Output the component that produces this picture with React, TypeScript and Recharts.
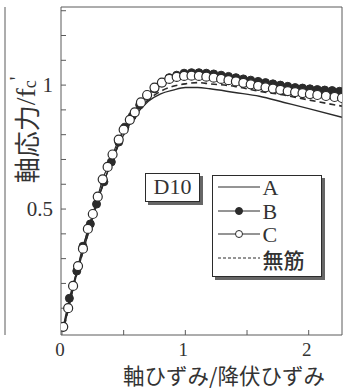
import React from 'react';
import { LineChart, Line, XAxis, YAxis, Legend } from 'recharts';

// strain / yield strain (x) and normalised axial stress (y)
const xA = [0.02, 0.1, 0.2, 0.3, 0.4, 0.5, 0.6, 0.7, 0.8, 0.9, 1.0, 1.1, 1.2, 1.4, 1.6, 1.8, 2.0, 2.27];
const yA = [0.03, 0.2, 0.38, 0.55, 0.69, 0.8, 0.88, 0.935, 0.965, 0.98, 0.99, 0.99, 0.985, 0.97, 0.955, 0.93, 0.905, 0.87];

const xPlain = [0.02, 0.1, 0.2, 0.3, 0.4, 0.5, 0.6, 0.7, 0.8, 0.9, 1.0, 1.1, 1.2, 1.4, 1.6, 1.8, 2.0, 2.27];
const yPlain = [0.03, 0.2, 0.38, 0.55, 0.69, 0.8, 0.885, 0.94, 0.975, 0.995, 1.005, 1.01, 1.005, 0.995, 0.975, 0.96, 0.94, 0.915];

const xB = [0.01, 0.06, 0.12, 0.17, 0.23, 0.28, 0.34, 0.4, 0.46, 0.51, 0.57, 0.63, 0.69, 0.75, 0.81, 0.87, 0.93, 0.99, 1.05, 1.11, 1.17, 1.23, 1.29, 1.35, 1.41, 1.47, 1.53, 1.59, 1.65, 1.71, 1.77, 1.83, 1.89, 1.95, 2.01, 2.07, 2.13, 2.19, 2.25];
const yB = [0.025, 0.14, 0.25, 0.35, 0.44, 0.52, 0.61, 0.69, 0.77, 0.83, 0.875, 0.92, 0.955, 0.985, 1.01, 1.03, 1.04, 1.048, 1.05, 1.05, 1.048, 1.045, 1.04, 1.035, 1.03, 1.025, 1.02, 1.015, 1.01, 1.005, 1.0, 0.995, 0.99, 0.988, 0.985, 0.982, 0.98, 0.978, 0.975];

const xC = [0.01, 0.05, 0.09, 0.13, 0.17, 0.21, 0.25, 0.29, 0.33, 0.37, 0.41, 0.46, 0.5, 0.55, 0.59, 0.64, 0.69, 0.75, 0.81, 0.87, 0.93, 0.99, 1.05, 1.11, 1.17, 1.23, 1.29, 1.35, 1.41, 1.47, 1.53, 1.59, 1.65, 1.71, 1.77, 1.83, 1.89, 1.95, 2.01, 2.07, 2.14, 2.21, 2.27];
const yC = [0.025, 0.1, 0.19, 0.27, 0.34, 0.42, 0.48, 0.55, 0.62, 0.67, 0.72, 0.78, 0.82, 0.86, 0.89, 0.93, 0.96, 0.99, 1.01, 1.025, 1.033, 1.037, 1.038, 1.037, 1.034, 1.03, 1.025, 1.02, 1.015, 1.009, 1.003, 0.997, 0.991, 0.986, 0.981, 0.976, 0.972, 0.968, 0.964, 0.96, 0.956, 0.952, 0.948];

const xTicks = [0, 0.5, 1, 1.5, 2];
const xTickLabels = [0, 1, 2];
const yTicks = [0.1, 0.2, 0.3, 0.4, 0.5, 0.6, 0.7, 0.8, 0.9, 1.0, 1.1, 1.2, 1.3];
const yTickLabels = [0.5, 1];
const legendOrder = ['A', 'B', 'C', '無筋'];

const toPoints = (xs: number[], ys: number[]) => xs.map((x, i) => ({ x, y: ys[i] }));

const INK = '#2b2b2b';
const FRAME = '#5a5a5a';
const SERIF = "'Times New Roman', 'Liberation Serif', serif";
const CJK = "'Noto Sans CJK JP', sans-serif";
const X_DOMAIN = [-0.008, 2.27];
const Y_DOMAIN = [-0.008, 1.315];

const XTick = (props: any) => {
  const { x, y, payload } = props;
  if (!xTickLabels.includes(payload.value)) return <g />;
  return (
    <text x={x - 2} y={y + 21} textAnchor="middle" fontSize={19} fill="#333" fontFamily={SERIF}>
      {payload.value}
    </text>
  );
};

const YTick = (props: any) => {
  const { x, y, payload } = props;
  if (!yTickLabels.includes(payload.value)) return <g />;
  return (
    <text x={x - 8} y={y} dy="0.35em" textAnchor="end" fontSize={21} fill="#333" fontFamily={SERIF}>
      {String(payload.value)}
    </text>
  );
};

const XTitle = (props: any) => {
  const { x, y, width } = props.viewBox;
  return (
    <text x={x + width * 0.58} y={y + 49} textAnchor="middle" fontSize={21.5} fill="#333" fontFamily={CJK}>
      軸ひずみ/降伏ひずみ
    </text>
  );
};

const YTitle = (props: any) => {
  const { x, y } = props.viewBox;
  const cx = x + 20;
  const cy = y + 123;
  return (
    <text transform={`translate(${cx},${cy}) rotate(-90)`} textAnchor="middle" dominantBaseline="central" fontSize={26} fill="#333">
      <tspan fontFamily={CJK}>軸応力</tspan>
      <tspan fontFamily={SERIF} fontSize={28}>/f</tspan>
      <tspan fontFamily={SERIF} fontSize={18} dy={5}>c</tspan>
      <tspan fontFamily={SERIF} fontSize={20} dy={-13}>'</tspan>
    </text>
  );
};

const LegendIcon = ({ name }: { name: string }) => (
  <svg width={42} height={22} style={{ display: 'block' }}>
    {name === '無筋' ? (
      <line x1={0} y1={10} x2={42} y2={10} stroke={INK} strokeWidth={1} strokeDasharray="3 2" />
    ) : (
      <line x1={0} y1={10} x2={42} y2={10} stroke={INK} strokeWidth={1} />
    )}
    {name === 'B' && <circle cx={21} cy={10} r={3.5} fill={INK} stroke={INK} />}
    {name === 'C' && <circle cx={21} cy={10} r={3.5} fill="#fff" stroke={INK} />}
  </svg>
);

const LegendBox = (props: any) => {
  const items = [...(props.payload || [])].sort(
    (a: any, b: any) => legendOrder.indexOf(a.value) - legendOrder.indexOf(b.value)
  );
  return (
    <div
      style={{
        width: 110,
        height: 102,
        boxSizing: 'border-box',
        border: `1.5px solid ${INK}`,
        boxShadow: '3px 3px 0 #666',
        background: '#fff',
        paddingLeft: 4.5,
      }}
    >
      {items.map((it: any) => (
        <div key={it.value} style={{ display: 'flex', alignItems: 'center', height: 23.7 }}>
          <LegendIcon name={it.value} />
          <span
            style={{
              marginLeft: 3,
              fontFamily: it.value === '無筋' ? CJK : SERIF,
              fontSize: it.value === '無筋' ? 21 : 22,
              fontWeight: it.value === '無筋' ? 500 : 400,
              lineHeight: '22px',
              color: '#333',
            }}
          >
            {it.value}
          </span>
        </div>
      ))}
    </div>
  );
};

export default function App() {
  return (
    <div style={{ position: 'absolute', left: 0, top: 0, width: 347, height: 391, background: '#fff' }}>
      <LineChart width={347} height={391} margin={{ top: 6, right: 4, bottom: 0, left: 0 }}>
        <XAxis
          type="number"
          dataKey="x"
          domain={X_DOMAIN}
          allowDataOverflow
          ticks={xTicks}
          tickSize={-5}
          tickMargin={5}
          height={56}
          stroke={FRAME}
          tick={XTick}
          label={<XTitle />}
        />
        <XAxis
          xAxisId="top"
          orientation="top"
          type="number"
          dataKey="x"
          domain={X_DOMAIN}
          allowDataOverflow
          ticks={xTicks}
          tickSize={-5}
          height={1}
          stroke={FRAME}
          tick={false}
        />
        <YAxis
          type="number"
          dataKey="y"
          domain={Y_DOMAIN}
          allowDataOverflow
          ticks={yTicks}
          tickSize={-5}
          tickMargin={5}
          width={56}
          stroke={FRAME}
          tick={YTick}
          label={<YTitle />}
        />
        <YAxis
          yAxisId="ghost"
          type="number"
          domain={Y_DOMAIN}
          allowDataOverflow
          ticks={yTicks}
          tickSize={5}
          width={5}
          stroke={FRAME}
          tick={false}
        />
        <YAxis
          yAxisId="right"
          orientation="right"
          type="number"
          domain={Y_DOMAIN}
          allowDataOverflow
          ticks={yTicks}
          tickSize={-5}
          width={1}
          stroke={FRAME}
          tick={false}
        />
        <Legend
          layout="vertical"
          align="center"
          verticalAlign="middle"
          content={<LegendBox />}
          wrapperStyle={{ left: 212, top: 175, width: 110 }}
        />
        <Line
          name="A"
          data={toPoints(xA, yA)}
          dataKey="y"
          type="monotone"
          stroke={INK}
          strokeWidth={1.4}
          dot={false}
          activeDot={false}
          isAnimationActive={false}
        />
        <Line
          name="無筋"
          data={toPoints(xPlain, yPlain)}
          dataKey="y"
          type="monotone"
          stroke={INK}
          strokeWidth={1.6}
          strokeDasharray="6 4"
          dot={false}
          activeDot={false}
          isAnimationActive={false}
        />
        <Line
          name="B"
          data={toPoints(xB, yB)}
          dataKey="y"
          type="monotone"
          stroke={INK}
          strokeWidth={1.2}
          dot={{ r: 4, fill: INK, stroke: INK, strokeWidth: 1 }}
          activeDot={false}
          isAnimationActive={false}
        />
        <Line
          name="C"
          data={toPoints(xC, yC)}
          dataKey="y"
          type="monotone"
          stroke={INK}
          strokeWidth={1.2}
          dot={{ r: 4.5, fill: '#fff', stroke: INK, strokeWidth: 1.2 }}
          activeDot={false}
          isAnimationActive={false}
        />
      </LineChart>
      <div
        style={{
          position: 'absolute',
          left: 145,
          top: 173,
          width: 55,
          height: 29,
          boxSizing: 'border-box',
          border: `1.5px solid ${INK}`,
          boxShadow: '3px 3px 0 #666',
          background: '#fff',
          fontFamily: SERIF,
          fontSize: 22,
          lineHeight: '26px',
          textAlign: 'center',
          color: '#333',
        }}
      >
        D10
      </div>
    </div>
  );
}
